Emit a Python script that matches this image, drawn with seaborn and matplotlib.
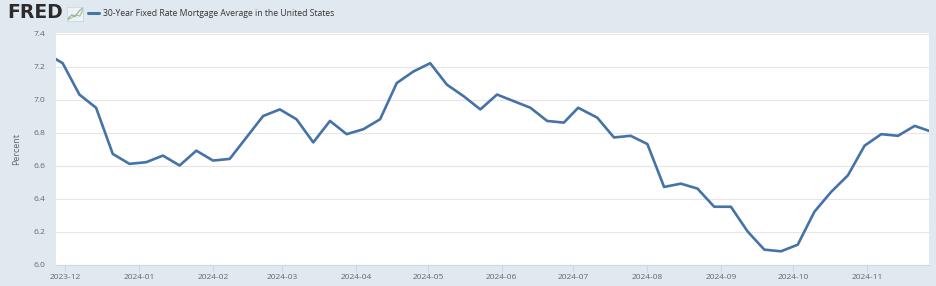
import matplotlib
matplotlib.use("Agg")
import matplotlib.pyplot as plt
import matplotlib.dates as mdates
import seaborn as sns
import pandas as pd
import numpy as np

dates = ["2023-11-22", "2023-11-30", "2023-12-07", "2023-12-14", "2023-12-21", "2023-12-28",
         "2024-01-04", "2024-01-11", "2024-01-18", "2024-01-25", "2024-02-01", "2024-02-08",
         "2024-02-15", "2024-02-22", "2024-02-29", "2024-03-07", "2024-03-14", "2024-03-21",
         "2024-03-28", "2024-04-04", "2024-04-11", "2024-04-18", "2024-04-25", "2024-05-02",
         "2024-05-09", "2024-05-16", "2024-05-23", "2024-05-30", "2024-06-06", "2024-06-13",
         "2024-06-20", "2024-06-27", "2024-07-03", "2024-07-11", "2024-07-18", "2024-07-25",
         "2024-08-01", "2024-08-08", "2024-08-15", "2024-08-22", "2024-08-29", "2024-09-05",
         "2024-09-12", "2024-09-19", "2024-09-26", "2024-10-03", "2024-10-10", "2024-10-17",
         "2024-10-24", "2024-10-31", "2024-11-07", "2024-11-14", "2024-11-21", "2024-11-27"]
rates = [7.29, 7.22, 7.03, 6.95, 6.67, 6.61,
         6.62, 6.66, 6.60, 6.69, 6.63, 6.64,
         6.77, 6.90, 6.94, 6.88, 6.74, 6.87,
         6.79, 6.82, 6.88, 7.10, 7.17, 7.22,
         7.09, 7.02, 6.94, 7.03, 6.99, 6.95,
         6.87, 6.86, 6.95, 6.89, 6.77, 6.78,
         6.73, 6.47, 6.49, 6.46, 6.35, 6.35,
         6.20, 6.09, 6.08, 6.12, 6.32, 6.44,
         6.54, 6.72, 6.79, 6.78, 6.84, 6.81]
y_ticks = [6.0, 6.2, 6.4, 6.6, 6.8, 7.0, 7.2, 7.4]
x_tick_labels = ["2023-12", "2024-01", "2024-02", "2024-03", "2024-04", "2024-05",
                 "2024-06", "2024-07", "2024-08", "2024-09", "2024-10", "2024-11"]
series_name = "30-Year Fixed Rate Mortgage Average in the United States"

df = pd.DataFrame({"date": pd.to_datetime(dates), "rate": rates})

sns.set_theme(style="white")
plt.rcParams["font.family"] = ["Open Sans", "DejaVu Sans"]

BG = "#e1e9f0"
LINE = "#4572a7"

fig = plt.figure(figsize=(9.36, 2.86), dpi=100, facecolor=BG)
ax = fig.add_axes([55.5 / 936, 1 - 264.5 / 286, (929 - 55.5) / 936, (264.5 - 33.5) / 286])
ax.set_facecolor("white")

sns.lineplot(data=df, x="date", y="rate", ax=ax, color=LINE, linewidth=1.9, legend=False)

ax.set_xlim(pd.Timestamp("2023-11-27"), pd.Timestamp("2024-11-27"))
ax.set_ylim(6.0, 7.4)
ax.set_yticks(y_ticks)
ax.set_yticklabels([f"{v:.1f}" for v in y_ticks])
xt = pd.to_datetime([s + "-01" for s in x_tick_labels])
ax.set_xticks(xt)
ax.set_xticklabels(x_tick_labels)

ax.grid(axis="y", color="#e6e6e6", linewidth=0.8)
ax.grid(axis="x", visible=False)
for s in ["top", "right", "left"]:
    ax.spines[s].set_visible(False)
ax.spines["bottom"].set_color("#ccd6eb")
ax.spines["bottom"].set_linewidth(0.8)

ax.tick_params(axis="y", length=0, pad=7.5, labelsize=6, labelcolor="#666666")
ax.tick_params(axis="x", length=5, width=0.8, color="#ccd6eb", pad=2,
               labelsize=6, labelcolor="#666666", bottom=True)
ax.set_xlabel("")
ax.set_ylabel("Percent", fontsize=6.5, color="#666666")
ax.yaxis.set_label_coords(-0.0395, 0.5)

# Header: FRED logo and legend
fig.text(7 / 936, 1 - 13 / 286, "FRED", fontsize=13.5, fontweight="heavy",
         color="#2b2b2b", va="center", ha="left", family=["DejaVu Sans"])
# small logo icon
icon = fig.add_axes([67 / 936, 1 - 21 / 286, 16 / 936, 14 / 286])
icon.set_facecolor("#eef2f5")
icon.plot([0, 0.3, 0.5, 0.75, 1], [0.1, 0.45, 0.3, 0.7, 0.95], color="#7fa8d6", lw=0.8)
icon.plot([0, 0.3, 0.55, 0.8, 1], [0.05, 0.25, 0.45, 0.35, 0.8], color="#a4c46a", lw=0.8)
icon.set_xlim(0, 1)
icon.set_ylim(0, 1)
icon.set_xticks([])
icon.set_yticks([])
for s in icon.spines.values():
    s.set_color("#c8d3dc")
    s.set_linewidth(0.5)

fig.add_artist(plt.Line2D([88 / 936, 99 / 936], [1 - 13 / 286, 1 - 13 / 286],
                          color=LINE, linewidth=2.2, transform=fig.transFigure))
fig.text(103 / 936, 1 - 13 / 286, series_name, fontsize=6.2, color="#333333",
         va="center", ha="left")

fig.savefig("out.png", dpi=100, facecolor=BG)
